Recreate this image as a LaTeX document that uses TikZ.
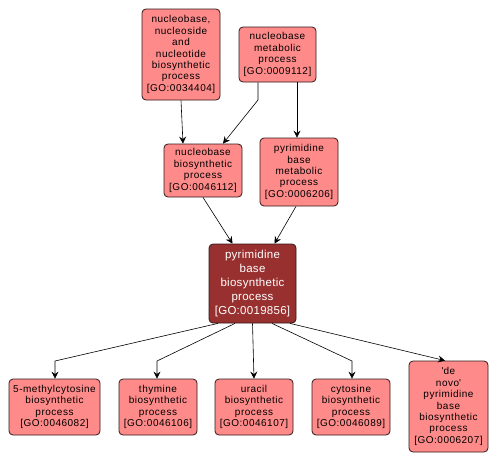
\documentclass[tikz,border=0pt]{standalone}
\usepackage{fontspec}
\setmainfont{Liberation Sans}
\newfontfamily\gofont[LetterSpace=5]{Liberation Sans}
\newfontfamily\gomainfont[LetterSpace=2.5]{Liberation Sans}
\newcommand\straightquote{\XeTeXglyph\numexpr\XeTeXcharglyph"27\relax}
\usetikzlibrary{arrows.meta,calc}
\definecolor{lightgo}{RGB}{255,138,138}
\definecolor{darkgo}{RGB}{153,48,48}
\definecolor{borderc}{RGB}{50,25,25}
\tikzset{
  goterm/.style={draw=borderc, line width=0.8pt, rounded corners=4pt, fill=lightgo, align=center,
    font=\gofont\fontsize{10}{11.4}\selectfont, inner sep=0pt, text=black},
  gomain/.style={goterm, fill=darkgo, text=white, font=\gomainfont\fontsize{11.5}{13.8}\selectfont},
  goedge/.style={draw=black, line width=0.6pt, -{Stealth[length=7pt,width=7pt,inset=2.5pt]}},
}
\begin{document}
\begin{tikzpicture}[x=1pt,y=-1pt]
\useasboundingbox (0,0) rectangle (499,463);
\node[goterm, minimum width=78pt, minimum height=91pt] (A) at (181,54.5) {nucleobase,\\nucleoside\\and\\nucleotide\\biosynthetic\\process\\{[GO:0034404]}};
\node[goterm, minimum width=77pt, minimum height=55pt] (B) at (277.5,54.5) {nucleobase\\metabolic\\process\\{[GO:0009112]}};
\node[goterm, minimum width=78pt, minimum height=53pt] (C) at (203,170.5) {nucleobase\\biosynthetic\\process\\{[GO:0046112]}};
\node[goterm, minimum width=78pt, minimum height=68pt] (D) at (299,172) {pyrimidine\\base\\metabolic\\process\\{[GO:0006206]}};
\node[gomain, minimum width=87pt, minimum height=79pt] (E) at (252.5,283.5) {pyrimidine\\base\\biosynthetic\\process\\{[GO:0019856]}};
\node[goterm, minimum width=91pt, minimum height=56pt] (F) at (54.5,407) {5-methylcytosine\\biosynthetic\\process\\{[GO:0046082]}};
\node[goterm, minimum width=78pt, minimum height=56pt] (G) at (158,407) {thymine\\biosynthetic\\process\\{[GO:0046106]}};
\node[goterm, minimum width=78pt, minimum height=56pt] (H) at (254,407) {uracil\\biosynthetic\\process\\{[GO:0046107]}};
\node[goterm, minimum width=78pt, minimum height=56pt] (I) at (351,407) {cytosine\\biosynthetic\\process\\{[GO:0046089]}};
\node[goterm, minimum width=79pt, minimum height=91pt] (J) at (448.5,406.5) {\straightquote de\\novo\straightquote\\pyrimidine\\base\\biosynthetic\\process\\{[GO:0006207]}};
% bend points
\coordinate (bc) at (258,100);
\coordinate (ef) at (55,361);
\coordinate (eg) at (157,361);
\coordinate (ei) at (352,361);
% edges
\draw[goedge] (A.south) -- ([xshift=2pt]C.north west -| A.south);
\draw[goedge] ([xshift=-19.5pt]B.south) -- (bc) -- ([xshift=20pt]C.north);
\draw[goedge] ([xshift=19.5pt]B.south) -- ([xshift=19.5pt]B.south |- D.north);
\draw[goedge] (C.south) -- ([xshift=-20pt]E.north);
\draw[goedge] ([xshift=-3pt]D.south) -- ([xshift=22pt]E.north);
\draw[goedge] ([xshift=-34.5pt]E.south) -- (ef) -- (ef |- F.north);
\draw[goedge] ([xshift=-17.5pt]E.south) -- (eg) -- (eg |- G.north);
\draw[goedge] (E.south) -- (H.north);
\draw[goedge] ([xshift=19.5pt]E.south) -- (ei) -- (ei |- I.north);
\draw[goedge] ([xshift=37.5pt]E.south) -- ([xshift=-3.5pt]J.north);
\end{tikzpicture}
\end{document}
